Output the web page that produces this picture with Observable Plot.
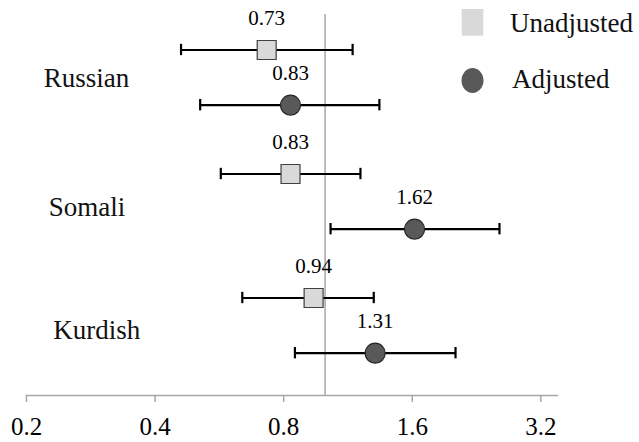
<!DOCTYPE html>
<html><head><meta charset="utf-8">
<script src="https://cdn.jsdelivr.net/npm/d3@7"></script>
<script src="https://cdn.jsdelivr.net/npm/@observablehq/plot@0.6"></script>
<style>
body{margin:0;padding:0;background:#fff;font-family:'Liberation Serif';}
#chart{position:relative;width:639px;height:442px;}
#chart svg{display:block;}
#legend{position:absolute;left:0;top:0;}
</style></head><body><div id="chart"></div>
<script>
const groups = ["Russian", "Somali", "Kurdish"];
const seriesNames = ["Unadjusted", "Adjusted"];
const unadjEst = [0.73, 0.83, 0.94];
const unadjLow = [0.46, 0.57, 0.64];
const unadjHigh = [1.16, 1.21, 1.30];
const adjEst = [0.83, 1.62, 1.31];
const adjLow = [0.51, 1.03, 0.85];
const adjHigh = [1.34, 2.56, 2.02];
const xTicks = [0.2, 0.4, 0.8, 1.6, 3.2];

const FONT = "Liberation Serif";

const table = {
  Unadjusted: groups.map((g, i) => ({group: g, est: unadjEst[i], low: unadjLow[i], high: unadjHigh[i]})),
  Adjusted: groups.map((g, i) => ({group: g, est: adjEst[i], low: adjLow[i], high: adjHigh[i]}))
};

const style = {
  Unadjusted: {dy: -27.5, symbol: "square", r: 10.7, fill: "#d9d9d9", stroke: "#404040"},
  Adjusted: {dy: 27.7, symbol: "circle", r: 10, fill: "#595959", stroke: "#262626"}
};

const bandTop = 14.175, bandBottom = 388.125;
const bw = (bandBottom - bandTop) / groups.length;
const capInset = bw / 2 - 6;

const seriesMarks = seriesNames.flatMap(s => {
  const rows = table[s];
  const st = style[s];
  return [
    Plot.ruleY(rows, {y: "group", x1: "low", x2: "high", dy: st.dy, stroke: "black", strokeWidth: 2.2}),
    Plot.tickX(rows, {x: "low", y: "group", dy: st.dy, insetTop: capInset, insetBottom: capInset, stroke: "black", strokeWidth: 2.2}),
    Plot.tickX(rows, {x: "high", y: "group", dy: st.dy, insetTop: capInset, insetBottom: capInset, stroke: "black", strokeWidth: 2.2}),
    Plot.dot(rows, {x: "est", y: "group", dy: st.dy, symbol: st.symbol, r: st.r, fill: st.fill, stroke: st.stroke, strokeWidth: 1.2}),
    Plot.text(rows, {x: "est", y: "group", dy: st.dy - 25, text: d => d.est.toFixed(2), lineAnchor: "bottom", fontSize: 21, fill: "black", fontFamily: FONT})
  ];
});

const labelOffsets = {Russian: [17.3, 9.5], Somali: [22.3, 14.5], Kurdish: [26.7, 13.5]};
const labelMarks = groups.map(g => Plot.text([g], {
  y: d => d, text: d => d, frameAnchor: "left", textAnchor: "start", lineAnchor: "bottom",
  dx: labelOffsets[g][0], dy: labelOffsets[g][1], fontSize: 27, fill: "#111", fontFamily: FONT
}));

const plot = Plot.plot({
  width: 639,
  height: 442,
  marginLeft: 26,
  marginRight: 82,
  marginTop: 14,
  marginBottom: 47,
  style: {fontFamily: FONT},
  x: {type: "log", base: 2, domain: [0.2, 3.5], axis: null},
  y: {type: "band", domain: groups, range: [bandTop, bandBottom], padding: 0, axis: null},
  marks: [
    Plot.ruleX([1], {stroke: "#a6a6a6", strokeWidth: 1.5}),
    Plot.frame({anchor: "bottom", stroke: "#a6a6a6", strokeWidth: 1.5}),
    Plot.axisX(xTicks, {tickSize: 7, tickPadding: 15, fontSize: 25, stroke: "#a6a6a6", strokeWidth: 1.5, fill: "black", fontFamily: FONT, tickFormat: d => String(d), label: null}),
    ...seriesMarks,
    ...labelMarks
  ]
});

const chart = document.getElementById("chart");
chart.appendChild(plot);

// Legend
const legend = d3.select(chart).append("svg").attr("id", "legend")
  .attr("width", 639).attr("height", 110);
legend.append("rect").attr("x", 461.7).attr("y", 9).attr("width", 21.6).attr("height", 26.7).attr("fill", style.Unadjusted.fill);
legend.append("ellipse").attr("cx", 472.5).attr("cy", 80.5).attr("rx", 11).attr("ry", 12.5).attr("fill", style.Adjusted.fill);
legend.append("text").attr("x", 510).attr("y", 31.7).attr("font-size", 27).attr("font-family", FONT).attr("fill", "#111").text(seriesNames[0]);
legend.append("text").attr("x", 512).attr("y", 88).attr("font-size", 27).attr("font-family", FONT).attr("fill", "#111").text(seriesNames[1]);
</script>
</body></html>
